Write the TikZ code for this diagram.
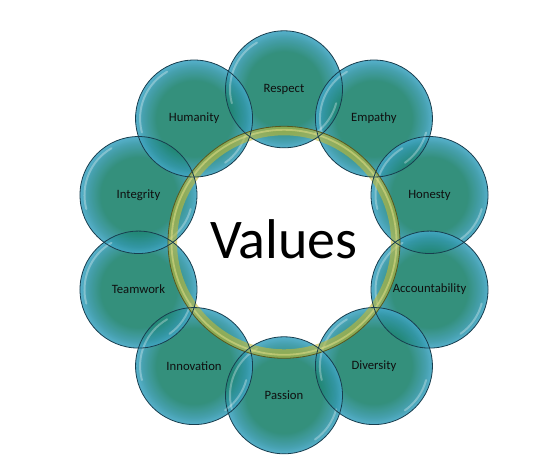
\documentclass[tikz,border=0pt]{standalone}
\usepackage{fontspec}
\setmainfont{Carlito}
\usetikzlibrary{calc}
\definecolor{tealc}{RGB}{30,132,110}
\definecolor{rimc}{RGB}{50,150,165}
\definecolor{rimc2}{RGB}{68,168,198}
\definecolor{outl}{RGB}{24,62,78}
\definecolor{ringy}{RGB}{196,186,52}
\definecolor{ringl}{RGB}{232,226,140}
\definecolor{ringd}{RGB}{88,88,30}
\definecolor{txt}{RGB}{15,15,15}
\pgfdeclareradialshading{bubble}{\pgfpoint{0bp}{0bp}}{color(0bp)=(tealc); color(16bp)=(tealc); color(22bp)=(rimc); color(25bp)=(rimc2); color(50bp)=(rimc2)}
\tikzset{
  bubblenode/.style={circle, minimum size=117pt, inner sep=0pt, shading=bubble, fill opacity=0.9, draw=none},
  rimline/.style={draw=outl, line width=0.8pt},
  glint/.style={white, draw opacity=0.3, line width=2pt, line cap=round},
  lbl/.style={font=\fontsize{12.7}{14}\selectfont, text=txt},
  title/.style={font=\fontsize{56}{60}\selectfont, text=black, anchor=base}
}
\begin{document}
\begin{tikzpicture}[x=1pt,y=1pt]
\useasboundingbox (0,0) rectangle (543,459);
\fill[white] (0,0) rectangle (543,459);
\coordinate (C) at (284,216.7);
% circle bodies
\foreach \a/\n in {90/c1,54/c2,18/c3,-18/c4,-54/c5,-90/c6,-126/c7,-162/c8,162/c9,126/c10}{
  \node[bubblenode] (\n) at ($(C)+(\a:153pt)$) {};
}
% glints
\foreach \n in {c1,c2,c3,c4,c5,c6,c7,c8,c9,c10}{
  \draw[glint] ($(\n.center)+(120:54pt)$) arc[start angle=120, end angle=195, radius=54pt];
  \draw[glint] ($(\n.center)+(-55:54pt)$) arc[start angle=-55, end angle=-15, radius=54pt];
}
% ring
\draw[ringy, draw opacity=0.6, line width=9pt] (C) circle (111.5pt);
\draw[ringl, draw opacity=0.5, line width=1.8pt] (C) circle (112.5pt);
\draw[ringd, line width=0.8pt] (C) circle (116pt);
% outlines
\foreach \n in {c1,c2,c3,c4,c5,c6,c7,c8,c9,c10}{
  \draw[rimline] (\n.center) circle (58.5pt);
}
% labels
\foreach \n/\t in {c1/Respect,c2/Empathy,c3/Honesty,c4/Accountability,c5/Diversity,c6/Passion,c7/Innovation,c8/Teamwork,c9/Integrity,c10/Humanity}{
  \node[lbl] (l\n) at (\n.center) {\t};
}
\node[title] (values) at (284,201) {Values};
\end{tikzpicture}
\end{document}
